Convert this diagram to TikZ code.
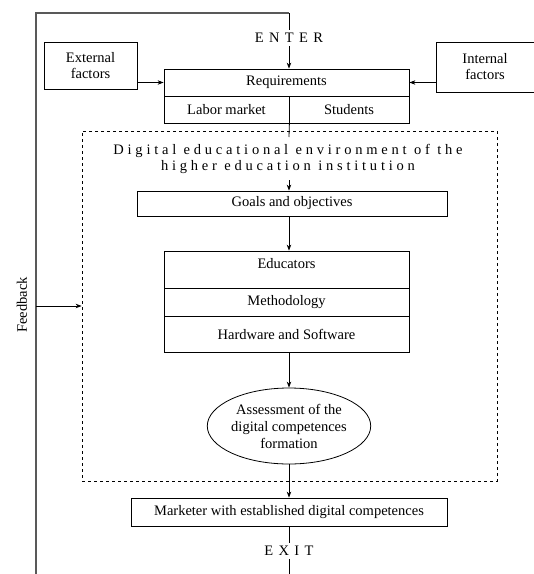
\documentclass[tikz,border=0pt]{standalone}
\usepackage{fontspec}
\setmainfont{Liberation Serif}
\usepackage{tikz}
\usetikzlibrary{shapes.geometric, arrows.meta, positioning, calc}

\begin{document}
\begin{tikzpicture}[
    x=1pt, y=-1pt,
    font=\fontsize{14.5}{16}\selectfont,
    line width=0.8pt,
    box/.style={draw, rectangle, inner sep=2pt, text centered},
    oval/.style={draw, ellipse, inner sep=0pt, align=center, minimum width=161pt, minimum height=76pt, font=\fontsize{14.5}{17}\selectfont},
    spaced/.style={font=\fontsize{14.5}{16}\selectfont\addfontfeature{LetterSpace=26}},
    wide/.style={font=\fontsize{14.5}{16}\selectfont\addfontfeature{LetterSpace=12}},
    arr/.style={-{Stealth[length=6pt,width=4.5pt]}},
    fbline/.style={line width=1.4pt, black!65}
]
\useasboundingbox (0,0) rectangle (534,574);

\node[box, minimum width=93pt, minimum height=47pt, align=center] (ext) at (90.5,65.5) {External\\factors};
\node[box, minimum width=98pt, minimum height=50pt, align=center] (int) at (485,67) {Internal\\factors};
\node[box, minimum width=245pt, minimum height=27pt] (req) at (286.5,82.5) {Requirements};
\node[box, minimum width=125pt, minimum height=27pt] (labor) at (226.5,109.5) {Labor market};
\node[box, minimum width=120pt, minimum height=27pt] (stud) at (349,109.5) {Students};
\node[wide] (enter) at (289,38) {E N T E R};

\node[draw, dashed, minimum width=415pt, minimum height=350pt] (env) at (289.5,306) {};
\node[spaced, align=center] (title) at (288,159) {Digital educational environment of the\\higher education institution};
\node[box, minimum width=310pt, minimum height=25pt] (goals) at (292,203.5) {Goals and objectives};
\node[box, minimum width=245pt, text height=15pt, text depth=18pt, inner sep=2pt] (educ) at (286.5,269.5) {Educators};
\node[box, minimum width=245pt, minimum height=28pt] (meth) at (286.5,302) {Methodology};
\node[box, minimum width=245pt, minimum height=36pt] (hard) at (286.5,334) {Hardware and Software};
\node[oval] (assess) at (289,426) {Assessment of the\\digital competences\\formation};
\node[box, minimum width=316pt, minimum height=28pt] (mark) at (289,512) {Marketer with established digital competences};
\node[wide] (exit) at (289,551) {E X I T};

\node[rotate=90, font=\fontsize{14.5}{16}\selectfont] (fb) at (22,305) {Feedback};

\coordinate (fbbot) at (36,574);
\coordinate (fbtop) at (36,13);
\coordinate (fbmid) at (36,306);
\coordinate (entertop) at (289,13);
\coordinate (dtick) at (289,137);
\coordinate (tbot) at (289,180);
\coordinate (exitend) at (289,574);

\draw[fbline] (fbbot) -- (fbtop) -- (entertop);
\draw (entertop) -- (enter.north);
\draw[arr] (enter.south) -- (enter.south |- req.north);
\draw[arr] (ext.east |- req) -- (req.west);
\draw[arr] (int.west |- req) -- (req.east);
\draw (labor.south east) -- (dtick);
\draw[arr] (tbot) -- (tbot |- goals.north);
\draw[arr] (goals.south -| tbot) -- (tbot |- educ.north);
\draw[arr] (hard.south -| assess.north) -- (assess.north);
\draw[arr] (assess.south) -- (mark.north);
\draw (mark.south) -- (exit.north);
\draw (exit.south) -- (exitend);
\draw[arr] (fbmid) -- (env.west);

\end{tikzpicture}
\end{document}
